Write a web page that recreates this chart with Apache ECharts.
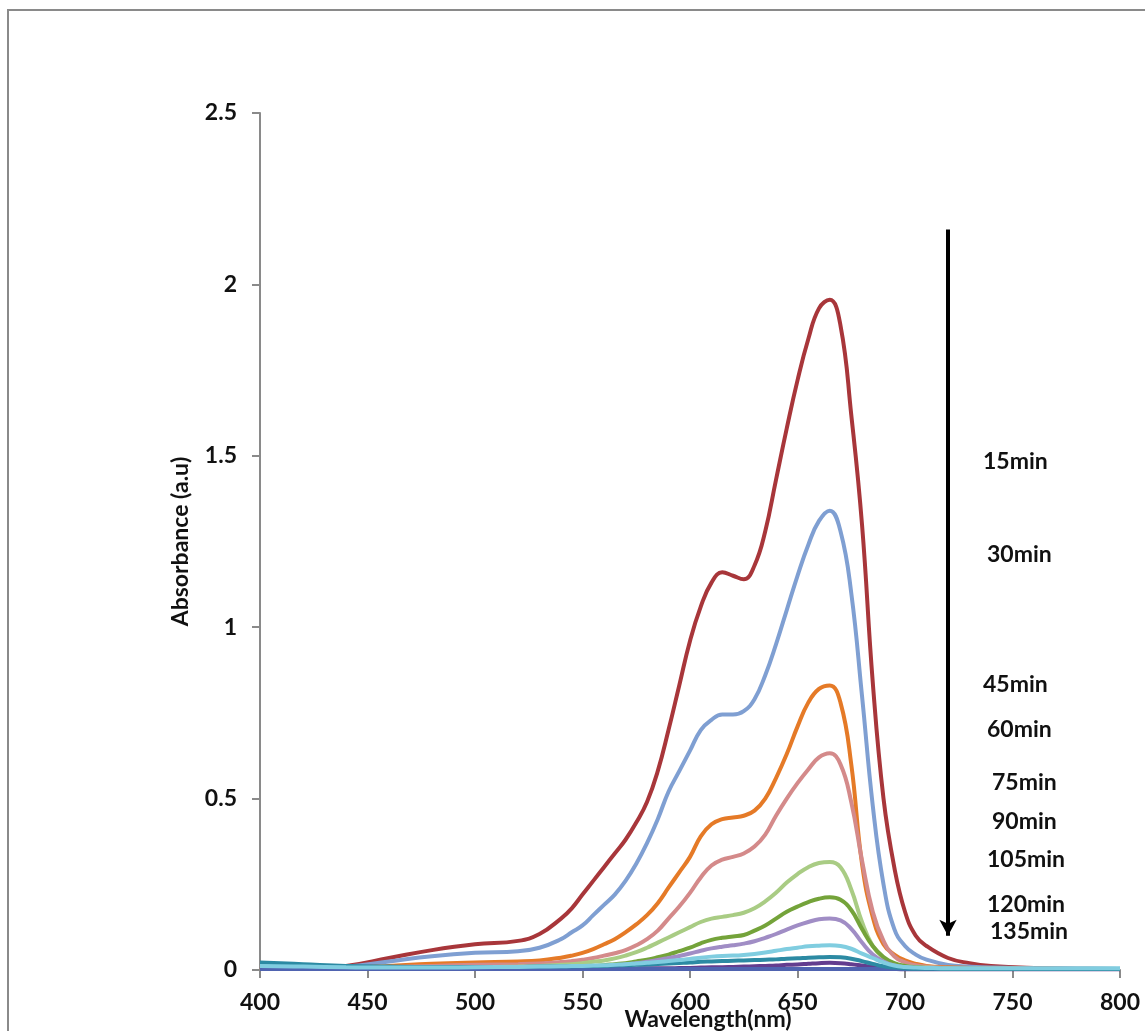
<!DOCTYPE html>
<html>
<head>
<meta charset="utf-8">
<script src="https://cdn.jsdelivr.net/npm/echarts@6/dist/echarts.min.js"></script>
<style>
  html, body { margin: 0; padding: 0; background: #fff; }
  #chart { width: 1145px; height: 1031px; }
</style>
</head>
<body>
<div id="chart"></div>
<script>
// wavelength grid (nm)
var wavelengths = [400, 420, 440, 460, 480, 500, 520, 530, 540,
  545, 550, 555, 560, 565, 570, 575, 580, 585, 590, 595, 600,
  605, 610, 615, 620, 625, 630, 635, 640, 645, 650,
  655, 660, 665, 670, 675, 680, 685, 690, 695, 700, 705, 710,
  720, 730, 740, 760, 780, 800];

// absorbance, one array per time
var abs15 = [0.01, 0.005, 0.012, 0.035, 0.058, 0.075, 0.085, 0.105, 0.15,
  0.18, 0.22, 0.26, 0.3, 0.34, 0.38, 0.43, 0.49, 0.58, 0.7, 0.83, 0.96,
  1.06, 1.13, 1.16, 1.15, 1.14, 1.18, 1.28, 1.43, 1.58, 1.72,
  1.84, 1.93, 1.955, 1.88, 1.62, 1.3, 0.84, 0.5, 0.3, 0.17, 0.1, 0.07,
  0.035, 0.02, 0.012, 0.006, 0.004, 0.003];
var abs30 = [0.01, 0.005, 0.01, 0.025, 0.04, 0.05, 0.055, 0.065, 0.09,
  0.11, 0.13, 0.16, 0.19, 0.22, 0.26, 0.31, 0.37, 0.44, 0.52, 0.58, 0.64,
  0.7, 0.73, 0.745, 0.745, 0.755, 0.79, 0.86, 0.95, 1.05, 1.15,
  1.24, 1.31, 1.34, 1.28, 1.1, 0.8, 0.48, 0.25, 0.12, 0.07, 0.045, 0.03,
  0.015, 0.01, 0.007, 0.005, 0.004, 0.003];
var abs45 = [0.008, 0.004, 0.006, 0.012, 0.018, 0.022, 0.025, 0.028, 0.036,
  0.042, 0.05, 0.061, 0.075, 0.09, 0.11, 0.133, 0.16, 0.195, 0.24, 0.285, 0.33,
  0.39, 0.425, 0.44, 0.445, 0.45, 0.465, 0.5, 0.56, 0.63, 0.71,
  0.78, 0.82, 0.83, 0.78, 0.6, 0.31, 0.155, 0.075, 0.045, 0.028, 0.018, 0.012,
  0.008, 0.006, 0.005, 0.004, 0.003, 0.003];
var abs60 = [0.007, 0.004, 0.005, 0.008, 0.012, 0.015, 0.017, 0.019, 0.023,
  0.026, 0.03, 0.035, 0.042, 0.049, 0.058, 0.072, 0.09, 0.115, 0.15, 0.185, 0.225,
  0.27, 0.305, 0.322, 0.33, 0.34, 0.36, 0.395, 0.45, 0.5, 0.545,
  0.585, 0.62, 0.632, 0.6, 0.49, 0.32, 0.17, 0.085, 0.04, 0.022, 0.014, 0.01,
  0.006, 0.005, 0.004, 0.003, 0.003, 0.003];
var abs75 = [0.006, 0.004, 0.004, 0.005, 0.007, 0.008, 0.01, 0.012, 0.015,
  0.017, 0.02, 0.024, 0.028, 0.034, 0.042, 0.052, 0.065, 0.08, 0.095, 0.11, 0.125,
  0.14, 0.15, 0.155, 0.16, 0.167, 0.18, 0.2, 0.225, 0.255, 0.28,
  0.3, 0.312, 0.315, 0.3, 0.235, 0.14, 0.07, 0.035, 0.018, 0.012, 0.009, 0.007,
  0.005, 0.004, 0.004, 0.003, 0.003, 0.003];
var abs90 = [0.005, 0.003, 0.003, 0.004, 0.005, 0.005, 0.006, 0.007, 0.008,
  0.009, 0.01, 0.012, 0.014, 0.017, 0.02, 0.025, 0.03, 0.037, 0.045, 0.055, 0.065,
  0.078, 0.088, 0.094, 0.098, 0.102, 0.115, 0.13, 0.15, 0.17, 0.185,
  0.198, 0.208, 0.212, 0.205, 0.175, 0.12, 0.07, 0.038, 0.02, 0.012, 0.008, 0.006,
  0.004, 0.004, 0.003, 0.003, 0.003, 0.003];
var abs105 = [0.004, 0.003, 0.003, 0.003, 0.004, 0.004, 0.005, 0.005, 0.006,
  0.007, 0.008, 0.0095, 0.011, 0.013, 0.016, 0.02, 0.024, 0.029, 0.035, 0.041, 0.048,
  0.056, 0.063, 0.068, 0.072, 0.077, 0.084, 0.094, 0.105, 0.118, 0.13,
  0.14, 0.148, 0.15, 0.145, 0.12, 0.08, 0.045, 0.025, 0.013, 0.008, 0.006, 0.005,
  0.004, 0.003, 0.003, 0.003, 0.003, 0.003];
var abs120 = [0.012, 0.01, 0.008, 0.007, 0.007, 0.008, 0.009, 0.01, 0.011,
  0.0115, 0.012, 0.013, 0.014, 0.0155, 0.017, 0.019, 0.021, 0.023, 0.026, 0.029, 0.032,
  0.036, 0.039, 0.041, 0.042, 0.044, 0.047, 0.051, 0.056, 0.061, 0.065,
  0.069, 0.071, 0.072, 0.07, 0.062, 0.048, 0.035, 0.022, 0.013, 0.009, 0.007, 0.006,
  0.005, 0.005, 0.005, 0.005, 0.005, 0.005];
var abs135 = [0.022, 0.017, 0.012, 0.01, 0.009, 0.009, 0.009, 0.01, 0.01,
  0.0105, 0.011, 0.0115, 0.012, 0.013, 0.014, 0.015, 0.016, 0.0175, 0.019, 0.0205, 0.022,
  0.024, 0.025, 0.026, 0.027, 0.028, 0.029, 0.03, 0.031, 0.033, 0.034,
  0.036, 0.037, 0.038, 0.037, 0.033, 0.026, 0.018, 0.011, 0.007, 0.005, 0.004, 0.004,
  0.003, 0.003, 0.003, 0.003, 0.003, 0.003];
// two more faint traces lying along the baseline
var absExtraA = [0.003, 0.003, 0.003, 0.003, 0.003, 0.003, 0.003, 0.003, 0.003,
  0.0035, 0.004, 0.004, 0.004, 0.004, 0.004, 0.0045, 0.005, 0.005, 0.005, 0.0055, 0.006,
  0.007, 0.008, 0.008, 0.009, 0.01, 0.011, 0.012, 0.013, 0.015, 0.016,
  0.018, 0.02, 0.021, 0.02, 0.017, 0.013, 0.009, 0.005, 0.003, 0.002, 0.002, 0.002,
  0.002, 0.002, 0.002, 0.002, 0.002, 0.002];
var absExtraB = [0.003, 0.003, 0.003, 0.003, 0.003, 0.003, 0.003, 0.003, 0.003,
  0.003, 0.003, 0.003, 0.003, 0.003, 0.003, 0.003, 0.003, 0.003, 0.003, 0.003, 0.003,
  0.003, 0.003, 0.003, 0.003, 0.003, 0.003, 0.003, 0.003, 0.003, 0.003,
  0.003, 0.003, 0.003, 0.003, 0.003, 0.003, 0.003, 0.003, 0.003, 0.003, 0.003, 0.003,
  0.003, 0.003, 0.003, 0.003, 0.003, 0.003];

var timeLabels = ['15min', '30min', '45min', '60min', '75min', '90min', '105min', '120min', '135min'];
var xTicks = { min: 400, max: 800, step: 50 };
var yTicks = { min: 0, max: 2.5, step: 0.5 };

var chart = echarts.init(document.getElementById('chart'), null, { renderer: 'canvas' });

var seriesDefs = [
  { name: '15min', values: abs15, color: '#a8363a' },
  { name: '30min', values: abs30, color: '#7f9fd2' },
  { name: '45min', values: abs45, color: '#e57a27' },
  { name: '60min', values: abs60, color: '#d48a8a' },
  { name: '75min', values: abs75, color: '#a9cc84' },
  { name: '90min', values: abs90, color: '#74a33a' },
  { name: '105min', values: abs105, color: '#a08dc5' },
  { name: 'extraA', values: absExtraA, color: '#633d8f' },
  { name: 'extraB', values: absExtraB, color: '#4f63b0' },
  { name: '135min', values: abs135, color: '#2c8aa3' },
  { name: '120min', values: abs120, color: '#80cde0' }
];

var font = 'Lato';
var series = seriesDefs.map(function(d) {
  return {
    name: d.name,
    type: 'line',
    smooth: 0.45,
    showSymbol: false,
    symbol: 'none',
    lineStyle: { color: d.color, width: 4 },
    data: wavelengths.map(function(w, i) { return [w, d.values[i]]; })
  };
});

// the downward arrow, in data coordinates
series.push({
  name: 'arrow',
  type: 'line',
  data: [],
  markLine: {
    silent: true,
    symbol: ['none', 'arrow'],
    symbolSize: [13, 16],
    label: { show: false },
    lineStyle: { color: '#000', width: 4, type: 'solid' },
    data: [[{ coord: [720, 2.16] }, { coord: [720, 0.1] }]]
  }
});

var labelPos = [[983, 462], [987, 555], [983, 685], [987, 730], [992, 783], [992, 822], [987, 860], [987, 905], [990, 932]];
var graphics = [{
  type: 'rect',
  shape: { x: 8, y: 10, width: 1200, height: 1100 },
  style: { fill: 'none', stroke: '#8a8a8a', lineWidth: 2 },
  silent: true
}];
timeLabels.forEach(function(t, i) {
  graphics.push({
    type: 'text',
    x: labelPos[i][0],
    y: labelPos[i][1],
    style: { text: t, font: 'bold 23px ' + font, fill: '#111', textAlign: 'left', textVerticalAlign: 'middle' }
  });
});

chart.setOption({
  animation: false,
  backgroundColor: '#fff',
  grid: { left: 260, right: 25, top: 113, bottom: 61, containLabel: false, outerBoundsMode: 'none' },
  xAxis: {
    type: 'value',
    min: xTicks.min, max: xTicks.max, interval: xTicks.step,
    name: 'Wavelength(nm)',
    nameLocation: 'middle',
    nameGap: 38,
    nameMoveOverlap: false,
    nameTextStyle: { fontFamily: font, fontWeight: 'bold', fontSize: 23, color: '#111', padding: [0, 0, 0, 36] },
    axisLine: { show: true, lineStyle: { color: '#8a8a8a', width: 2 } },
    axisTick: { show: true, inside: false, length: 8, lineStyle: { color: '#8a8a8a', width: 2 } },
    axisLabel: { fontFamily: font, fontWeight: 'bold', fontSize: 23, color: '#111', margin: 21 },
    splitLine: { show: false }
  },
  yAxis: {
    type: 'value',
    min: yTicks.min, max: yTicks.max, interval: yTicks.step,
    name: 'Absorbance (a.u)',
    nameLocation: 'middle',
    nameGap: 68,
    nameRotate: 90,
    nameMoveOverlap: false,
    nameTextStyle: { fontFamily: font, fontWeight: 'bold', fontSize: 23, color: '#111' },
    axisLine: { show: true, lineStyle: { color: '#8a8a8a', width: 2 } },
    axisTick: { show: true, inside: false, length: 8, lineStyle: { color: '#8a8a8a', width: 2 } },
    axisLabel: { fontFamily: font, fontWeight: 'bold', fontSize: 23, color: '#111', margin: 23 },
    splitLine: { show: false }
  },
  graphic: graphics,
  series: series
});
</script>
</body>
</html>
